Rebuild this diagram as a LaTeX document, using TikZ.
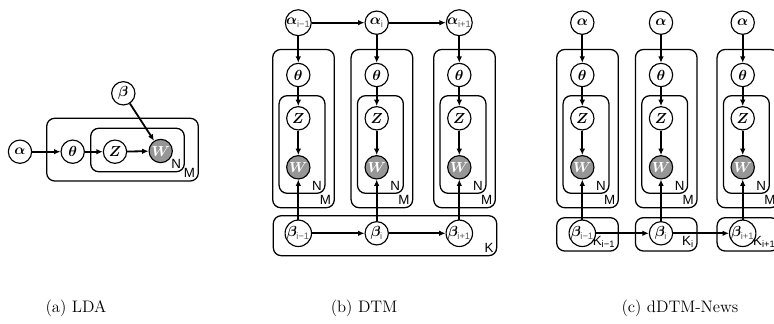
\documentclass[tikz,border=0pt]{standalone}
\usepackage{amsmath,amssymb,bm}
\usepackage{fontspec}
\setsansfont{Liberation Sans}
\usepackage{xcolor}
\usepackage{tikz}
\usetikzlibrary{arrows.meta, positioning}
\definecolor{obsgray}{RGB}{150, 150, 150}
\definecolor{subgray}{RGB}{90, 90, 90}
\newcommand{\vsub}[1]{\textsf{\scriptsize\color{subgray}#1}}

\begin{document}
\begin{tikzpicture}[
      x=0.75pt, y=-0.75pt,
      var/.style={circle, draw, fill=white, minimum size=17.5pt,
                  inner sep=0pt, line width=0.85pt,
                  font=\fontsize{11}{13}\selectfont},
      obs/.style={var, fill=obsgray},
      arr/.style={-{Latex[length=4.8pt, width=4.2pt]}, line width=1.35pt},
      plate/.style={rounded corners=6pt, line width=0.95pt},
      plbl/.style={anchor=south east, inner sep=2.2pt, font=\sffamily},
      capt/.style={font=\fontsize{12.5}{14}\selectfont}
    ]
    \useasboundingbox (0,0) rectangle (774,324);
    \clip (0,0) rectangle (774,324);

    % (a) LDA
    \draw[plate] (46.7,118.3) rectangle (198.3,181) coordinate (lM);
    \draw[plate] (90.7,128.3) rectangle (184.3,171.7) coordinate (lN);
    \node[plbl] (lNl) at (lN) {N};
    \node[plbl] (lMl) at (lM) {M};
    \node[var] (la) at (20,151.7)   {$\bm{\alpha}$};
    \node[var] (lt) at (72.7,151.7) {$\bm{\theta}$};
    \node[var] (lz) at (115,151.7)  {$\bm{Z}$};
    \node[obs] (lw) at (160.7,151)  {\textcolor{white}{$\bm{W}$}};
    \node[var] (lb) at (123.3,93.3) {$\bm{\beta}$};
    \draw[arr] (la) -- (lt);
    \draw[arr] (lt) -- (lz);
    \draw[arr] (lz) -- (lw);
    \draw[arr] (lb) -- (lw);

    % (b) DTM
    \draw[plate] (272.7,49.5) rectangle (334.3,207.7) coordinate (dM1);
    \draw[plate] (279.1,95.7) rectangle (324.9,193.3) coordinate (dN1);
    \draw[plate] (351.1,49.5) rectangle (412.7,207.7) coordinate (dM2);
    \draw[plate] (357.5,95.7) rectangle (403.3,193.3) coordinate (dN2);
    \draw[plate] (433.7,49.5) rectangle (495.3,207.7) coordinate (dM3);
    \draw[plate] (440.1,95.7) rectangle (485.9,193.3) coordinate (dN3);
    \draw[plate] (273.3,215.7) rectangle (496.7,255.7) coordinate (dK);
    \node[plbl] (dN1l) at (dN1) {N};
    \node[plbl] (dM1l) at (dM1) {M};
    \node[plbl] (dN2l) at (dN2) {N};
    \node[plbl] (dM2l) at (dM2) {M};
    \node[plbl] (dN3l) at (dN3) {N};
    \node[plbl] (dM3l) at (dM3) {M};
    \node[plbl] (dKl)  at (dK)  {K};

    \node[var] (da1) at (298.3,22.7) {$\bm{\alpha}_{\vsub{i−1}}$};
    \node[var] (da2) at (376.7,22.7) {$\bm{\alpha}_{\vsub{i}}$};
    \node[var] (da3) at (459.3,22.7) {$\bm{\alpha}_{\vsub{i+1}}$};
    \node[var] (dt1) at (298.3,75)   {$\bm{\theta}$};
    \node[var] (dt2) at (376.7,75)   {$\bm{\theta}$};
    \node[var] (dt3) at (459.3,75)   {$\bm{\theta}$};
    \node[var] (dz1) at (298.3,118.3) {$\bm{Z}$};
    \node[var] (dz2) at (376.7,118.3) {$\bm{Z}$};
    \node[var] (dz3) at (459.3,118.3) {$\bm{Z}$};
    \node[obs] (dw1) at (298.3,167.3) {\textcolor{white}{$\bm{W}$}};
    \node[obs] (dw2) at (376.7,167.3) {\textcolor{white}{$\bm{W}$}};
    \node[obs] (dw3) at (459.3,167.3) {\textcolor{white}{$\bm{W}$}};
    \node[var] (db1) at (298.3,233.3) {$\bm{\beta}_{\vsub{i−1}}$};
    \node[var] (db2) at (376.7,233.3) {$\bm{\beta}_{\vsub{i}}$};
    \node[var] (db3) at (459.3,233.3) {$\bm{\beta}_{\vsub{i+1}}$};

    \draw[arr] (da1) -- (da2);
    \draw[arr] (da2) -- (da3);
    \draw[arr] (db1) -- (db2);
    \draw[arr] (db2) -- (db3);
    \draw[arr] (da1) -- (dt1);
    \draw[arr] (da2) -- (dt2);
    \draw[arr] (da3) -- (dt3);
    \draw[arr] (dt1) -- (dz1);
    \draw[arr] (dt2) -- (dz2);
    \draw[arr] (dt3) -- (dz3);
    \draw[arr] (dz1) -- (dw1);
    \draw[arr] (dz2) -- (dw2);
    \draw[arr] (dz3) -- (dw3);
    \draw[arr] (db1) -- (dw1);
    \draw[arr] (db2) -- (dw2);
    \draw[arr] (db3) -- (dw3);

    % (c) dDTM-News
    \draw[plate] (556.7,49.5) rectangle (618.3,207.7) coordinate (nM1);
    \draw[plate] (563.1,95.7) rectangle (608.9,193.3) coordinate (nN1);
    \draw[plate] (556.7,217.7) rectangle (618.3,251) coordinate (nK1);
    \draw[plate] (635.4,49.5) rectangle (697,207.7) coordinate (nM2);
    \draw[plate] (641.8,95.7) rectangle (687.6,193.3) coordinate (nN2);
    \draw[plate] (635.4,217.7) rectangle (697,251) coordinate (nK2);
    \draw[plate] (717.1,49.5) rectangle (778.7,207.7) coordinate (nM3);
    \draw[plate] (723.5,95.7) rectangle (769.3,193.3) coordinate (nN3);
    \draw[plate] (717.1,217.7) rectangle (778.7,251) coordinate (nK3);
    \node[plbl] (nN1l) at (nN1) {N};
    \node[plbl] (nM1l) at (nM1) {M};
    \node[plbl] (nK1l) at (nK1) {K\textsubscript{i−1}};
    \node[plbl] (nN2l) at (nN2) {N};
    \node[plbl] (nM2l) at (nM2) {M};
    \node[plbl] (nK2l) at (nK2) {K\textsubscript{i}};
    \node[plbl] (nN3l) at (nN3) {N};
    \node[plbl] (nM3l) at (nM3) {M};
    \node[plbl] (nK3l) at (nK3) {K\textsubscript{i+1}};

    \node[var] (na1) at (582.3,22.7) {$\bm{\alpha}$};
    \node[var] (na2) at (661,22.7)   {$\bm{\alpha}$};
    \node[var] (na3) at (742.7,22.7) {$\bm{\alpha}$};
    \node[var] (nt1) at (582.3,75)   {$\bm{\theta}$};
    \node[var] (nt2) at (661,75)     {$\bm{\theta}$};
    \node[var] (nt3) at (742.7,75)   {$\bm{\theta}$};
    \node[var] (nz1) at (582.3,118.3) {$\bm{Z}$};
    \node[var] (nz2) at (661,118.3)   {$\bm{Z}$};
    \node[var] (nz3) at (742.7,118.3) {$\bm{Z}$};
    \node[obs] (nw1) at (582.3,167.3) {\textcolor{white}{$\bm{W}$}};
    \node[obs] (nw2) at (661,167.3)   {\textcolor{white}{$\bm{W}$}};
    \node[obs] (nw3) at (742.7,167.3) {\textcolor{white}{$\bm{W}$}};
    \node[var] (nb1) at (582.3,233.3) {$\bm{\beta}_{\vsub{i−1}}$};
    \node[var] (nb2) at (661,233.3)   {$\bm{\beta}_{\vsub{i}}$};
    \node[var] (nb3) at (742.7,233.3) {$\bm{\beta}_{\vsub{i+1}}$};

    \draw[arr] (nb1) -- (nb2);
    \draw[arr] (nb2) -- (nb3);
    \draw[arr] (na1) -- (nt1);
    \draw[arr] (na2) -- (nt2);
    \draw[arr] (na3) -- (nt3);
    \draw[arr] (nt1) -- (nz1);
    \draw[arr] (nt2) -- (nz2);
    \draw[arr] (nt3) -- (nz3);
    \draw[arr] (nz1) -- (nw1);
    \draw[arr] (nz2) -- (nw2);
    \draw[arr] (nz3) -- (nw3);
    \draw[arr] (nb1) -- (nw1);
    \draw[arr] (nb2) -- (nw2);
    \draw[arr] (nb3) -- (nw3);

    % captions
    \node[capt] (capa) at (76,308)  {(a) LDA};
    \node[capt] (capb) at (364,308) {(b) DTM};
    \node[capt] (capc) at (680,308) {(c) dDTM-News};
  \end{tikzpicture}
\end{document}
